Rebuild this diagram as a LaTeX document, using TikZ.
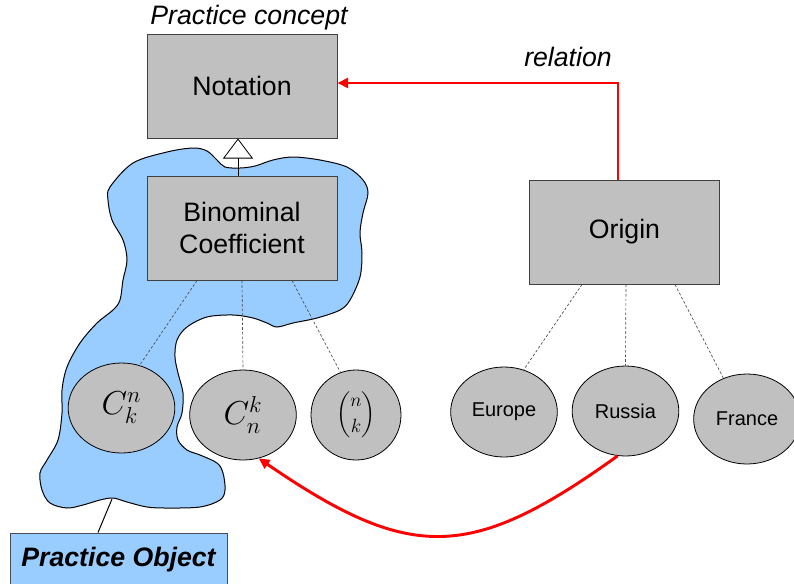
\documentclass[tikz,border=0pt]{standalone}
\usepackage{amsmath}
\usepackage{fontspec}
\setmainfont{Liberation Sans}
\usetikzlibrary{shapes.geometric,arrows.meta,calc}
\definecolor{blobblue}{RGB}{153,204,255}
\definecolor{conceptgray}{RGB}{192,192,192}
\definecolor{relred}{RGB}{255,0,0}
\begin{document}
\begin{tikzpicture}[x=0.75pt,y=-0.75pt,
  concept/.style={draw=black!75, fill=conceptgray, line width=0.75pt,
    minimum width=142.5pt, minimum height=78pt, inner sep=0pt, align=center,
    font=\fontsize{20}{24}\selectfont},
  inst/.style={ellipse, draw=black, fill=conceptgray, line width=0.6pt,
    minimum width=80pt, minimum height=67.5pt, inner sep=0pt,
    font=\fontsize{15}{18}\selectfont},
  lbl/.style={inner sep=0pt, font=\fontsize{20}{24}\selectfont\itshape},
  pobox/.style={draw=black!70, fill=blobblue, line width=0.75pt,
    minimum width=162.75pt, minimum height=40.5pt, inner sep=0pt,
    font=\fontsize{20}{24}\selectfont\bfseries\itshape},
  dotline/.style={draw=black!70, line width=0.5pt, dash pattern=on 2pt off 1.5pt},
  relarrow/.style={draw=relred, line width=2.2pt,
    -{Triangle[length=8pt,width=7.5pt]}},
  genarrow/.style={draw=black, line width=0.6pt,
    -{Triangle[open,length=15pt,width=22.5pt,fill=white]}},
  symb/.style={font=\fontsize{25}{25}\selectfont}
]
\useasboundingbox (0,0) rectangle (794,583);
\clip (0,0) rectangle (794,583);

% practice object region
\draw[fill=blobblue, line width=0.75pt] plot[smooth cycle, tension=0.55] coordinates {
  (110,187) (133,163) (167,152) (193,148) (207,151) (217,160) (225,167)
  (240,168) (255,166) (273,160) (293,157) (320,160) (347,167) (363,180)
  (368,193) (363,213) (360,233) (362,253) (360,277) (350,300) (340,310)
  (317,318) (293,323) (277,327) (267,323) (253,318) (233,315) (207,317)
  (187,327) (177,340) (175,357) (178,373) (183,393) (182,413) (177,427)
  (178,440) (187,450) (200,455) (217,463) (223,473) (225,490) (220,500)
  (200,507) (167,508) (147,507) (127,502) (113,498) (100,500) (83,505)
  (67,508) (50,503) (42,490) (40,473) (47,460) (58,440) (62,413) (62,390)
  (67,367) (80,343) (97,323) (113,310) (120,300) (123,280) (127,260)
  (123,240) (112,220) (108,200)};
\coordinate (foot) at (112,499);

% concepts
\node[concept] (notation) at (242,86) {Notation};
\node[concept] (bc) at (242,228) {Binominal\\Coefficient};
\node[concept] (origin) at (624.5,232) {Origin};
\node[lbl] (pc) at (249,18) {Practice concept};
\node[lbl] (rel) at (568,57) {relation};

% instances
\node[inst] (c1) at (121.5,408) {};
\node[symb] at (c1) {$C^{n}_{k}$};
\node[inst] (ckn) at (243,415) {};
\node[symb] at (ckn) {$C^{k}_{n}$};
\node[inst, minimum width=67.5pt] (bn) at (356,415) {};
\node[font=\fontsize{14}{14}\selectfont] at (bn) {$\dbinom{n}{k}$};
\node[inst] (europe) at (504,412) {Europe};
\node[inst] (russia) at (625.5,411) {Russia};
\node[inst] (france) at (747,419) {France};

\node[pobox] (po) at (118.5,560) {Practice Object};

% connectors
\draw[genarrow] ($(bc.north)+(-4,0)$) -- ($(notation.south)+(-4,0)$);
\draw[dotline] ($(bc.south)+(-45,0)$) -- (c1.67);
\draw[dotline] (bc.south) -- (ckn.north);
\draw[dotline] ($(bc.south)+(50,0)$) -- (bn.110);
\draw[dotline] ($(origin.south)+(-42.5,0)$) -- (europe.65);
\draw[dotline] ($(origin.south)+(1.5,0)$) -- (russia.north);
\draw[dotline] ($(origin.south)+(50.5,0)$) -- (france.120);
\draw[relarrow] ($(origin.north)+(-6.5,0)$) |- ($(notation.east)+(0,-3)$);
\draw[relarrow] (russia.-100) .. controls (470,562) and (410,562) .. (ckn.-70);
\draw[line width=0.75pt] (foot) -- ($(po.north)+(-20.5,0)$);
\end{tikzpicture}
\end{document}
